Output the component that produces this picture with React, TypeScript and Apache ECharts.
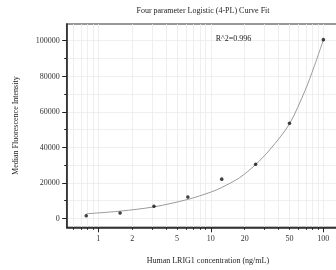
import React, { useEffect, useRef } from 'react';
import * as echarts from 'echarts';

const concentrations = [0.78125, 1.5625, 3.125, 6.25, 12.5, 25, 50, 100];
const mfiValues = [1450, 3000, 6900, 12100, 22100, 30500, 53500, 100600];

const curveConc = [0.78125, 1.5625, 3.125, 6.25, 10, 12.5, 18, 25, 33.6, 50, 68.8, 82.7, 100];
const curveMfi = [2600, 4100, 6500, 10700, 14800, 17400, 22900, 30300, 38800, 53200, 72000, 85300, 100400];

const xLabelValues = [1, 2, 5, 10, 20, 50, 100];
const xMajorTicks = [1, 10, 100];
const xMinorTicks = [0.6, 0.7, 0.8, 0.9, 1, 2, 3, 4, 5, 6, 7, 8, 9, 10, 20, 30, 40, 50, 60, 70, 80, 90, 100];
const yLabelValues = [0, 20000, 40000, 60000, 80000, 100000];
const yMinorTicks = [0, 10000, 20000, 30000, 40000, 50000, 60000, 70000, 80000, 90000, 100000];

const X_MIN = 0.524;
const X_MAX = 169;
const Y_MIN = -5000;
const Y_MAX = 109400;

const TITLE = 'Four parameter Logistic (4-PL) Curve Fit';
const R2_TEXT = 'R^2=0.996';
const X_NAME = 'Human LRIG1 concentration (ng/mL)';
const Y_NAME = 'Median Fluorescence Intensity';

const FONT = "'Liberation Serif', 'Times New Roman', serif";
const lg = (v: number) => Math.log10(v);

export default function App() {
  const ref = useRef<HTMLDivElement>(null);
  useEffect(() => {
    if (!ref.current) return;
    const chart = echarts.init(ref.current, undefined, { renderer: 'svg' });
    const gridColor = '#ebebeb';
    const axisColor = '#222';
    const xBase = {
      type: 'value' as const,
      min: lg(X_MIN),
      max: lg(X_MAX),
      position: 'bottom' as const,
      gridIndex: 0,
    };
    const yBase = {
      type: 'value' as const,
      min: Y_MIN,
      max: Y_MAX,
      position: 'left' as const,
      gridIndex: 0,
    };
    chart.setOption({
      animation: false,
      grid: {
        left: 66.7,
        top: 24,
        right: -13,
        bottom: 42.7,
        containLabel: false,
        outerBoundsMode: 'none',
        show: true,
        borderColor: '#777',
        borderWidth: 1.5,
        backgroundColor: 'transparent',
      },
      graphic: [
        {
          type: 'text',
          x: 203,
          y: 10,
          style: {
            text: TITLE,
            align: 'center',
            verticalAlign: 'middle',
            font: `8px ${FONT}`,
            fill: '#222',
          },
        },
        {
          type: 'text',
          x: 233.5,
          y: 38,
          style: {
            text: R2_TEXT,
            align: 'center',
            verticalAlign: 'middle',
            font: `8px ${FONT}`,
            fill: '#222',
          },
          z: 10,
        },
      ],
      xAxis: [
        {
          ...xBase,
          axisLine: { show: true, onZero: false, lineStyle: { color: axisColor, width: 1.5 } },
          axisTick: {
            show: true,
            customValues: xMajorTicks.map(lg),
            length: 5,
            lineStyle: { color: axisColor, width: 1 },
          },
          axisLabel: {
            show: true,
            customValues: xLabelValues.map(lg),
            formatter: (v: number) => String(Math.round(Math.pow(10, v) * 100) / 100),
            margin: 7,
            fontSize: 8,
            fontFamily: FONT,
            color: '#333',
          },
          splitLine: { show: false },
          name: X_NAME,
          nameLocation: 'middle',
          nameGap: 29.5,
          nameTextStyle: { fontSize: 8, fontFamily: FONT, color: '#222' },
        },
        {
          ...xBase,
          axisLine: { show: false, onZero: false },
          axisTick: {
            show: true,
            customValues: xMinorTicks.map(lg),
            length: 2.5,
            lineStyle: { color: axisColor, width: 1 },
          },
          axisLabel: { show: false },
          splitLine: { show: true, lineStyle: { color: gridColor, width: 0.8 } },
        },
      ],
      yAxis: [
        {
          ...yBase,
          axisLine: { show: true, onZero: false, lineStyle: { color: axisColor, width: 1.5 } },
          axisTick: {
            show: true,
            customValues: yLabelValues,
            length: 4.5,
            lineStyle: { color: axisColor, width: 1 },
          },
          axisLabel: {
            show: true,
            customValues: yLabelValues,
            formatter: (v: number) => String(v),
            margin: 7,
            fontSize: 8,
            fontFamily: FONT,
            color: '#333',
          },
          splitLine: { show: false },
          name: Y_NAME,
          nameLocation: 'middle',
          nameGap: 47,
          nameRotate: 90,
          nameTextStyle: { fontSize: 8, fontFamily: FONT, color: '#222' },
        },
        {
          ...yBase,
          axisLine: { show: false, onZero: false },
          axisTick: {
            show: true,
            customValues: yMinorTicks,
            length: 2.5,
            lineStyle: { color: axisColor, width: 1 },
          },
          axisLabel: { show: false },
          splitLine: { show: true, lineStyle: { color: gridColor, width: 0.8 } },
        },
      ],
      series: [
        {
          type: 'line',
          xAxisIndex: 0,
          yAxisIndex: 0,
          data: curveConc.map((c, i) => [lg(c), curveMfi[i]]),
          smooth: 0.3,
          showSymbol: false,
          symbol: 'none',
          lineStyle: { color: '#9a9a9a', width: 1 },
          z: 3,
        },
        {
          type: 'scatter',
          xAxisIndex: 0,
          yAxisIndex: 0,
          data: concentrations.map((c, i) => [lg(c), mfiValues[i]]),
          symbol: 'circle',
          symbolSize: 3.5,
          itemStyle: { color: '#111' },
          z: 4,
        },
      ],
    });
    return () => chart.dispose();
  }, []);
  return (
    <div
      ref={ref}
      style={{ position: 'fixed', left: 0, top: 0, width: 336, height: 270 }}
    />
  );
}
